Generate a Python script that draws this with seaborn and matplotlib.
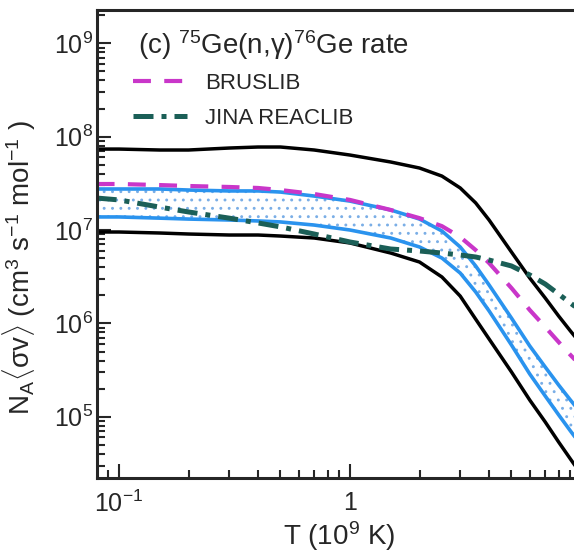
#!/usr/bin/env python3

# 75Ge(n,g)76Ge rate: uncertainty band vs BRUSLIB / JINA REACLIB
import matplotlib

matplotlib.use("Agg")
import matplotlib.pyplot as plt
import pandas
import seaborn as sns
from matplotlib.ticker import LogLocator, NullFormatter

# Temperature grid (10^9 K)
T9 = [0.08, 0.1, 0.15, 0.2, 0.3, 0.4, 0.5, 0.7, 1.0, 1.5, 2.0,
      2.5, 3.0, 3.5, 4.0, 5.0, 6.0, 7.0, 8.0, 9.0, 10.0]

# outer (black) limits
upper_black = [7.36e7, 7.36e7, 7.19e7, 7.19e7, 7.55e7, 7.74e7, 7.74e7, 7.19e7, 6.35e7, 5.35e7, 4.61e7,
               3.78e7, 2.82e7, 1.95e7, 1.28e7, 5.81e6, 3.06e6, 1.87e6, 1.20e6, 8.29e5, 6.02e5]
lower_black = [9.52e6, 9.52e6, 9.29e6, 9.06e6, 8.84e6, 8.84e6, 8.62e6, 8.21e6, 7.26e6, 5.67e6, 4.54e6,
               3.14e6, 1.96e6, 1.11e6, 6.81e5, 3.02e5, 1.51e5, 8.80e4, 5.37e4, 3.53e4, 2.44e4]

# inner (blue) band
upper_blue = [2.75e7, 2.75e7, 2.75e7, 2.68e7, 2.62e7, 2.62e7, 2.55e7, 2.31e7, 2.04e7, 1.64e7, 1.31e7,
              9.76e6, 6.58e6, 4.12e6, 2.58e6, 1.14e6, 5.73e5, 3.41e5, 2.19e5, 1.51e5, 1.10e5]
lower_blue = [1.38e7, 1.38e7, 1.34e7, 1.31e7, 1.28e7, 1.25e7, 1.22e7, 1.13e7, 1.0e7, 8.21e6, 6.58e6,
              5.01e6, 3.46e6, 2.17e6, 1.36e6, 5.87e5, 2.87e5, 1.67e5, 1.05e5, 7.05e4, 4.99e4]

# library rates
bruslib = [3.11e7, 3.11e7, 3.03e7, 2.96e7, 2.89e7, 2.82e7, 2.68e7, 2.43e7, 2.10e7, 1.64e7, 1.34e7,
           1.10e7, 8.41e6, 6.10e6, 4.43e6, 2.39e6, 1.39e6, 9.15e5, 6.32e5, 4.59e5, 3.50e5]
jina = [2.20e7, 2.10e7, 1.76e7, 1.56e7, 1.34e7, 1.19e7, 1.08e7, 9.06e6, 7.44e6, 6.26e6, 5.96e6,
        5.67e6, 5.40e6, 5.14e6, 4.77e6, 4.12e6, 3.30e6, 2.64e6, 2.06e6, 1.65e6, 1.36e6]

x_ticks = [0.1, 1]
x_ticklabels = [r"10$^{-1}$", "1"]

df = pandas.DataFrame(
    {
        "T9": T9,
        "upper_black": upper_black,
        "lower_black": lower_black,
        "upper_blue": upper_blue,
        "lower_blue": lower_blue,
        "bruslib": bruslib,
        "jina": jina,
    }
)

sns.set_style("ticks")
plt.rcParams["font.family"] = ["Liberation Sans", "DejaVu Sans"]
plt.rcParams["mathtext.fontset"] = "custom"
plt.rcParams["mathtext.rm"] = "Liberation Sans"
plt.rcParams["mathtext.it"] = "Liberation Sans:italic"
plt.rcParams["hatch.linewidth"] = 0.9
plt.rcParams["hatch.color"] = "#7aaee6"

W, H = 574, 554
fig = plt.figure(figsize=(W / 100, H / 100), dpi=100)
# right spine sits just past the cropped figure edge
ax = fig.add_axes([97 / W, 76 / H, 484 / W, 468 / H])

ax.fill_between(df.T9, df.lower_blue, df.upper_blue, facecolor="white",
                edgecolor="#7aaee6", hatch="..", linewidth=0)

blue = "#2a93ee"
sns.lineplot(data=df, x="T9", y="upper_black", ax=ax, color="black", lw=2.5)
sns.lineplot(data=df, x="T9", y="lower_black", ax=ax, color="black", lw=2.5)
sns.lineplot(data=df, x="T9", y="upper_blue", ax=ax, color=blue, lw=2.6)
sns.lineplot(data=df, x="T9", y="lower_blue", ax=ax, color=blue, lw=2.6)
sns.lineplot(data=df, x="T9", y="bruslib", ax=ax, color="#c936c9", lw=3.0,
             dashes=False, label="BRUSLIB")
sns.lineplot(data=df, x="T9", y="jina", ax=ax, color="#1b5f57", lw=3.6,
             dashes=False, label="JINA REACLIB")
ax.lines[-2].set_dashes([4.3, 3.2])
ax.lines[-1].set_dashes([4.0, 1.6, 1.0, 1.6])

ax.set_xscale("log")
ax.set_yscale("log")
ax.set_xlim(0.0803, 10)
ax.set_ylim(2.21e4, 2.27e9)

ax.set_xticks(x_ticks, labels=x_ticklabels)
ax.xaxis.set_minor_locator(LogLocator(base=10, subs=range(2, 10), numticks=12))
ax.yaxis.set_major_locator(LogLocator(base=10, numticks=12))
ax.yaxis.set_minor_locator(LogLocator(base=10, subs=range(2, 10), numticks=12))
ax.xaxis.set_minor_formatter(NullFormatter())
ax.yaxis.set_minor_formatter(NullFormatter())

ax.tick_params(which="both", direction="in", top=False, right=False, labelsize=18, width=1.5)
ax.tick_params(which="major", length=10)
ax.tick_params(which="minor", length=6)
ax.tick_params(axis="x", pad=9)
ax.tick_params(axis="y", pad=3)
for s in ax.spines.values():
    s.set_linewidth(2.2)

ax.set_xlabel(r"T (10$^9$ K)", fontsize=20, labelpad=2)
ax.set_ylabel(r"N$_\mathrm{A}$$\langle$σv$\rangle$ (cm$^3$ s$^{-1}$ mol$^{-1}$ )", fontsize=20)
ax.yaxis.set_label_coords(-0.122, 0.45)

ax.text(0.085, 0.925, "(c) $^{75}$Ge(n,γ)$^{76}$Ge rate", transform=ax.transAxes,
        fontsize=20, va="center", ha="left")

ax.legend(loc="upper left", bbox_to_anchor=(0.055, 0.885), frameon=False, fontsize=16,
          handlelength=2.45, handletextpad=0.8, labelspacing=0.65, borderaxespad=0)

plt.savefig("out.png", dpi=100)
plt.close()
